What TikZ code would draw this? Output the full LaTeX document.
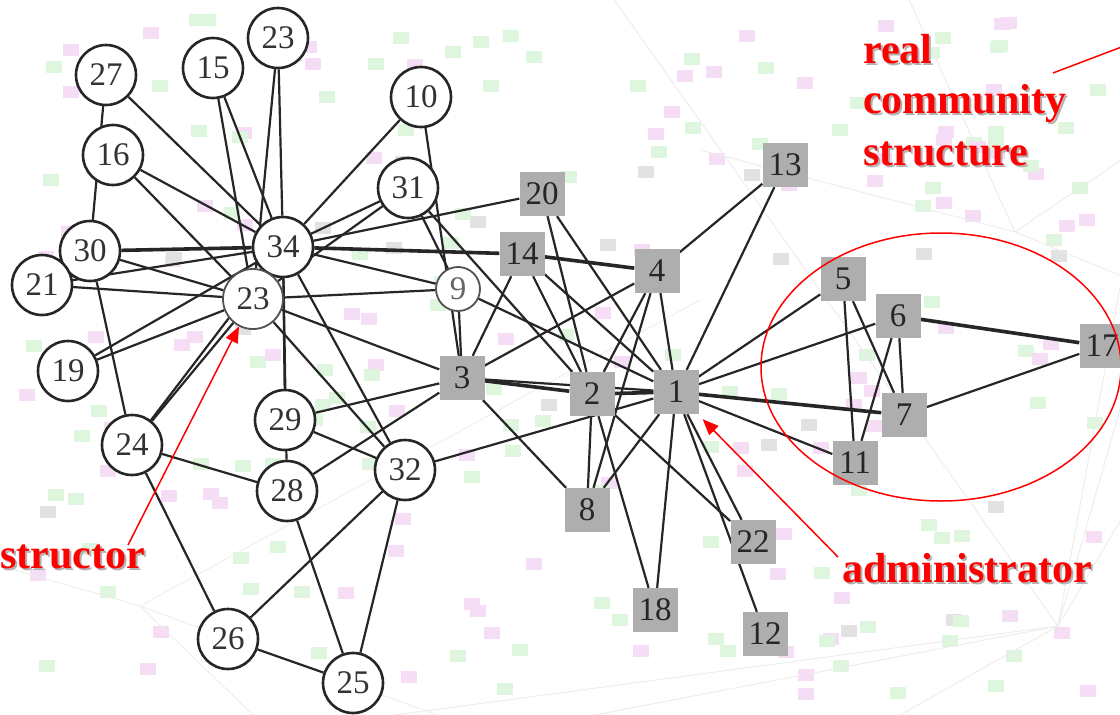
\documentclass[tikz,border=0pt]{standalone}
\usepackage{fontspec}
\setmainfont{Liberation Serif}
\usetikzlibrary{arrows.meta,shapes.geometric}

\definecolor{edgecol}{HTML}{262626}
\definecolor{boxfill}{HTML}{AEAEAE}
\definecolor{bggreen}{HTML}{DDF6DD}
\definecolor{bgpink}{HTML}{F6DDF6}
\definecolor{bggray}{HTML}{E2E2E2}
\definecolor{notered}{HTML}{FF0000}

\pgfdeclarelayer{backdrop}
\pgfdeclarelayer{ties}
\pgfsetlayers{backdrop,ties,main}

\tikzset{
  member/.style={circle, draw=edgecol, line width=2.6pt, fill=white,
    minimum size=60pt, inner sep=0pt,
    font=\fontsize{33}{33}\selectfont, text=black!80},
  faintmember/.style={member, line width=1.8pt, draw=edgecol!80},
  officer/.style={rectangle, fill=boxfill, minimum width=45pt, minimum height=44pt,
    inner sep=0pt, font=\fontsize{33}{33}\selectfont, text=black!85},
  tie/.style={draw=edgecol, line width=2.2pt},
  heavytie/.style={draw=edgecol, line width=3.6pt},
  note/.style={font=\fontsize{42}{42}\selectfont\bfseries, text=notered,
    inner sep=0pt, anchor=base west},
  noteshadow/.style={note, text=black!30},
  pointer/.style={draw=notered, line width=1.5pt,
    -{Triangle[length=16pt,width=13pt]}},
}

\begin{document}
\begin{tikzpicture}[x=1pt, y=-1pt]
\useasboundingbox (0,0) rectangle (1120,715);
\clip (0,0) rectangle (1120,715);

% faint background network
\begin{pgfonlayer}{backdrop}
\fill[white] (0,0) rectangle (1120,715);
\pgfmathsetseed{4242}
\foreach \k in {1,...,230}{
  \pgfmathsetmacro{\bx}{20+1080*rnd}
  \pgfmathsetmacro{\by}{20+680*rnd}
  \pgfmathsetmacro{\bc}{rnd}
  \ifdim\bc pt<0.5pt
    \fill[bggreen] (\bx-8,\by-6) rectangle (\bx+8,\by+6);
  \else\ifdim\bc pt<0.93pt
    \fill[bgpink] (\bx-8,\by-6) rectangle (\bx+8,\by+6);
  \else
    \fill[bggray] (\bx-8,\by-6) rectangle (\bx+8,\by+6);
  \fi\fi
}
\foreach \ex/\ey in {1180/-40, 1180/200, 1180/420, 600/-20, 820/760, 360/760, 60/760}{
  \draw[black!8, line width=0.8pt] (1058,626) -- (\ex,\ey);
}
\foreach \ex/\ey in {1180/120, 900/-20, 1180/300, 700/150}{
  \draw[black!8, line width=0.8pt] (1015,232) -- (\ex,\ey);
}
\foreach \ex/\ey in {-20/560, 300/760, 560/760, 700/300}{
  \draw[black!7, line width=0.8pt] (140,606) -- (\ex,\ey);
}
\end{pgfonlayer}

% members (circles)
\node[member] (n27) at (106,75) {27};
\node[member] (n15) at (213,68) {15};
\node[member] (n23) at (278,38) {23};
\node[member] (n10) at (421,97) {10};
\node[member] (n16) at (113,155) {16};
\node[member] (n31) at (408,188) {31};
\node[member] (n30) at (90,251) {30};
\node[member] (n21) at (42,285) {21};
\node[member] (n19) at (68,371) {19};
\node[member] (n24) at (132,445) {24};
\node[member] (n29) at (285,420) {29};
\node[member] (n28) at (287,491) {28};
\node[member] (n32) at (405,470) {32};
\node[member] (n26) at (228,639) {26};
\node[member] (n25) at (353,683) {25};
\node[member] (n34) at (283,247) {34};
\node[faintmember] (n33) at (253,299) {23};
\node[faintmember, minimum size=44pt, text=black!60] (n9) at (458,289) {9};

% officers (grey squares)
\node[officer] (n20) at (542,194) {20};
\node[officer] (n14) at (522,254) {14};
\node[officer] (n13) at (785,165) {13};
\node[officer] (n4) at (657,271) {4};
\node[officer] (n3) at (462,378) {3};
\node[officer] (n2) at (592,394) {2};
\node[officer] (n1) at (676,392) {1};
\node[officer] (n5) at (843,279) {5};
\node[officer] (n6) at (898,316) {6};
\node[officer] (n17) at (1102,346) {17};
\node[officer] (n7) at (904,415) {7};
\node[officer] (n11) at (855,463) {11};
\node[officer] (n8) at (587,510) {8};
\node[officer] (n22) at (753,542) {22};
\node[officer] (n18) at (655,610) {18};
\node[officer] (n12) at (765,634) {12};

% ties between members, drawn beneath the nodes
\begin{pgfonlayer}{ties}
\foreach \a/\b in {
  1/2,1/3,1/4,1/5,1/6,1/8,1/9,1/11,1/12,1/13,1/14,1/18,1/20,1/22,1/32,
  2/4,2/8,2/14,2/18,2/20,2/22,2/31,
  3/4,3/8,3/9,3/10,3/14,3/28,3/29,3/33,
  4/8,4/13,5/7,5/11,6/7,6/11,7/17,
  9/31,9/33,9/34,10/34,15/33,15/34,16/33,16/34,19/33,19/34,
  20/34,21/33,21/34,23/33,23/34,24/26,24/28,24/30,24/33,24/34,
  25/26,25/28,25/32,26/32,27/30,27/34,28/34,29/32,29/34,
  30/33,31/33,31/34,32/33,32/34,33/34}{
  \draw[tie] (n\a) -- (n\b);
}
\foreach \a/\b in {1/7,2/3,1/2,6/17,4/14,14/34,30/34}{
  \draw[heavytie] (n\a) -- (n\b);
}
\end{pgfonlayer}

% annotations
\draw[notered, line width=1.5pt] (941,367) ellipse [x radius=180, y radius=134];

\node[noteshadow] at (865,65) {real};
\node[note] (lblreal) at (863,63) {real};
\node[noteshadow] at (865,115) {community};
\node[note] (lblcomm) at (863,113) {community};
\node[noteshadow] at (865,167) {structure};
\node[note] (lblstruct) at (863,165) {structure};

\node[noteshadow] at (2,570) {structor};
\node[note] (lblinstr) at (0,568) {structor};
\node[noteshadow] at (844,584) {administrator};
\node[note] (lbladmin) at (842,582) {administrator};

\coordinate (instrfoot) at (128,545);
\coordinate (adminfoot) at (838,557);
\coordinate (commfoot) at (1053,73);
\coordinate (commhead) at (1140,40);

\draw[pointer] (instrfoot) -- (n33);
\draw[pointer, shorten >=7pt] (adminfoot) -- (n1);
\draw[notered, line width=1.5pt] (commfoot) -- (commhead);
\end{tikzpicture}
\end{document}
